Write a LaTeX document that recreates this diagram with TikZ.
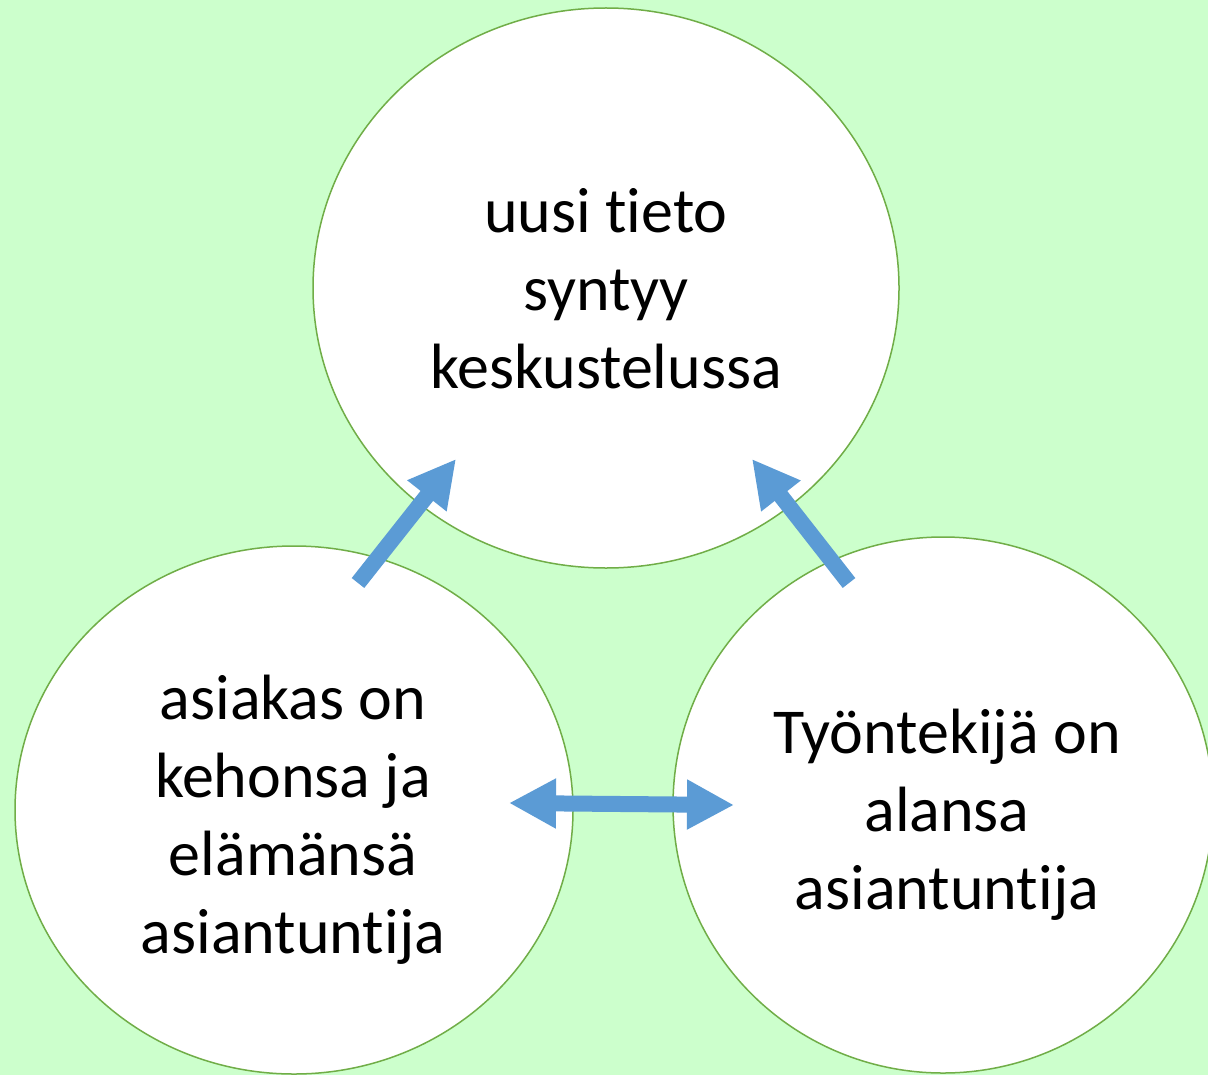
\documentclass[tikz,border=0pt]{standalone}
\usepackage{fontspec}
\setmainfont[Ligatures=NoCommon]{Carlito}
\usetikzlibrary{shapes.geometric,arrows.meta}
\definecolor{bgreen}{HTML}{CCFFCC}
\definecolor{ringgreen}{HTML}{70AD47}
\definecolor{arrowblue}{HTML}{5B9BD5}
\tikzset{
  bubble/.style={ellipse, draw=ringgreen, line width=0.75pt, fill=white, inner sep=0pt},
  bubbletext/.style={align=center, inner sep=0pt, font=\fontsize{32pt}{39pt}\selectfont},
  fatarrow/.style={draw=arrowblue, line width=8pt,
    -{Triangle[width=23.5pt,length=23.5pt]}},
  fatdouble/.style={draw=arrowblue, line width=8pt,
    {Triangle[width=23.5pt,length=23.5pt]}-{Triangle[width=23.5pt,length=23.5pt]}}
}
\begin{document}
\begin{tikzpicture}[x=0.5pt,y=-0.5pt]
\fill[bgreen] (0,0) rectangle (1208,1075);
\useasboundingbox (0,0) rectangle (1208,1075);
\clip (0,0) rectangle (1208,1075);
\node[bubble, minimum width=293pt, minimum height=280pt] (top) at (606,288) {};
\node[bubble, minimum width=279pt, minimum height=264pt] (left) at (294,810) {};
\node[bubble, minimum width=270pt, minimum height=268pt] (right) at (943,805) {};
\node[bubbletext] (toptext) at (606,289) {uusi tieto\\syntyy\\keskustelussa};
\node[bubbletext] (lefttext) at (293,820) {asiakas on\\kehonsa ja\\elämänsä\\asiantuntija};
\node[bubbletext] (righttext) at (947,815) {Työntekijä on\\alansa\\asiantuntija};
\coordinate (a1s) at (358,583);
\coordinate (a1e) at (456,459);
\coordinate (a2s) at (849,583);
\coordinate (a2e) at (752,459);
\coordinate (a3s) at (509,803);
\coordinate (a3e) at (734,805);
\draw[fatarrow] (a1s) -- (a1e);
\draw[fatarrow] (a2s) -- (a2e);
\draw[fatdouble] (a3s) -- (a3e);
\end{tikzpicture}
\end{document}
